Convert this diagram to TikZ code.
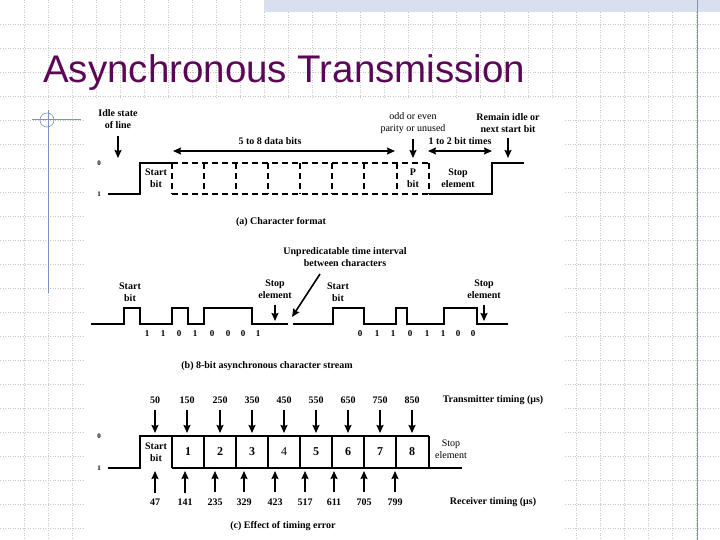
\documentclass[tikz,border=0pt]{standalone}
\usepackage{fontspec}
\setmainfont{Liberation Serif}
\newfontfamily\titlefont{Liberation Sans}
\usepackage{tikz}
\usetikzlibrary{arrows.meta, positioning}

\definecolor{titlepurple}{RGB}{92,6,88}
\definecolor{rulecol}{RGB}{128,144,196}
\definecolor{gridcol}{RGB}{200,200,200}
\definecolor{bandcol}{RGB}{216,224,240}

\begin{document}
\begin{tikzpicture}[
    x=1pt, y=-1pt,
    lbl/.style={font=\bfseries\fontsize{10}{12}\selectfont, align=center, inner sep=0pt},
    thin lbl/.style={font=\fontsize{10}{12}\selectfont, align=center, inner sep=0pt},
    bitlbl/.style={font=\bfseries\fontsize{9}{10}\selectfont, inner sep=0pt},
    level/.style={font=\bfseries\fontsize{7}{8}\selectfont, inner sep=0pt},
    cellnum/.style={font=\bfseries\fontsize{12}{13}\selectfont, inner sep=0pt},
    arrow/.style={-{Stealth[length=8pt, width=7pt, inset=1pt]}, line width=1.6pt},
    dblarrow/.style={{Stealth[length=8pt, width=7pt, inset=1pt]}-{Stealth[length=8pt, width=7pt, inset=1pt]}, line width=1.6pt},
    signal/.style={line width=1.8pt},
    frame/.style={line width=1.8pt, dash pattern=on 6pt off 4pt},
    cell/.style={line width=2.1pt},
    gridline/.style={gridcol, line width=0.6pt, dash pattern=on 1pt off 1.5pt},
]
% Slide background
\useasboundingbox (0,0) rectangle (720,540);
\fill[white] (0,0) rectangle (720,540);
\foreach \gx in {24,48,...,696} \draw[gridline] (\gx,0) -- (\gx,540);
\foreach \gy in {24,48,...,528} \draw[gridline] (0,\gy) -- (720,\gy);
\fill[bandcol] (264,0) rectangle (720,12);
\draw[rulecol, line width=1pt] (697,0) -- (697,540);
\draw[rulecol, line width=0.8pt] (32,119) -- (81,119);
\draw[rulecol, line width=0.8pt] (48,110) -- (48,293);
\draw[rulecol, line width=0.6pt] (47,120) circle (7);
\fill[white] (85,98) rectangle (565,540);

% Title
\node[font=\titlefont\fontsize{38.5}{40}\selectfont, text=titlepurple, anchor=base west, inner sep=0pt] (title) at (43,83) {Asynchronous Transmission};

% (a) Character format
\node[level] (a0) at (99,163) {0};
\node[level] (a1) at (99,194) {1};
\draw[signal] (108,194) -- (140,194) -- (140,163) -- (172,163);
\draw[frame] (172,163) -- (429,163);
\draw[frame] (172,194) -- (429,194);
\draw[frame] (172,163) -- (172,194);
\draw[frame] (204,163) -- (204,194);
\draw[frame] (236,163) -- (236,194);
\draw[frame] (268,163) -- (268,194);
\draw[frame] (300,163) -- (300,194);
\draw[frame] (332,163) -- (332,194);
\draw[frame] (364,163) -- (364,194);
\draw[frame] (397,163) -- (397,194);
\draw[frame] (429,163) -- (429,194);
\draw[signal] (429,194) -- (492,194) -- (492,163) -- (524,163);

\node[lbl] (startA) at (156,178) {Start\\bit};
\node[lbl] (parityA) at (413,178) {P\\bit};
\node[lbl] (stopA) at (458,178) {Stop\\element};

\node[lbl] (idle) at (118,119) {Idle state\\of line};
\coordinate (idleTip) at (118,158);
\draw[arrow, shorten <=7pt] (idle) -- (idleTip);

\node[lbl] (databits) at (270,141) {5 to 8 data bits};
\coordinate (dataL) at (173,151);
\coordinate (dataR) at (395,151);
\draw[dblarrow] (dataL) -- (dataR);

\node[thin lbl] (parity) at (413,123) {odd or even\\parity or unused};
\coordinate (parityTip) at (413,158);
\draw[arrow, shorten <=5pt] (parity) -- (parityTip);

\node[lbl] (bittimes) at (460,141) {1 to 2 bit times};
\coordinate (stopL) at (428,151);
\coordinate (stopR) at (492,151);
\draw[dblarrow] (stopL) -- (stopR);

\node[lbl] (remain) at (508,123) {Remain idle or\\next start bit};
\coordinate (remainTip) at (508,158);
\draw[arrow, shorten <=5pt] (remain) -- (remainTip);

\node[lbl] (capA) at (281,222) {(a) Character format};

% (b) 8-bit asynchronous character stream
\draw[signal] (91,324) -- (124,324) -- (124,308) -- (140,308) -- (140,324) -- (172,324)
    -- (172,308) -- (188,308) -- (188,324) -- (204,324) -- (204,308) -- (252,308)
    -- (252,324) -- (288,324);
\draw[signal] (293,324) -- (333,324) -- (333,308) -- (364,308) -- (364,324) -- (396,324)
    -- (396,308) -- (407,308) -- (407,324) -- (444,324) -- (444,308) -- (477,308)
    -- (477,324) -- (508,324);

\node[bitlbl] (b1) at (147,334) {1};
\node[bitlbl] (b2) at (163,334) {1};
\node[bitlbl] (b3) at (179,334) {0};
\node[bitlbl] (b4) at (195,334) {1};
\node[bitlbl] (b5) at (212,334) {0};
\node[bitlbl] (b6) at (228,334) {0};
\node[bitlbl] (b7) at (243,334) {0};
\node[bitlbl] (b8) at (258,334) {1};
\node[bitlbl] (c1) at (360,334) {0};
\node[bitlbl] (c2) at (377,334) {1};
\node[bitlbl] (c3) at (393,334) {1};
\node[bitlbl] (c4) at (410,334) {0};
\node[bitlbl] (c5) at (427,334) {1};
\node[bitlbl] (c6) at (443,334) {1};
\node[bitlbl] (c7) at (458,334) {0};
\node[bitlbl] (c8) at (473,334) {0};

\node[lbl] (startB1) at (130,292) {Start\\bit};
\node[lbl] (stopB1) at (275,289) {Stop\\element};
\coordinate (stopB1Tip) at (275,321);
\draw[arrow, shorten <=6pt] (stopB1) -- (stopB1Tip);

\node[lbl] (gap) at (345,257) {Unpredicatable time interval\\between characters};
\coordinate (gapFrom) at (320,274);
\coordinate (gapTo) at (292,317);
\draw[arrow] (gapFrom) -- (gapTo);

\node[lbl] (startB2) at (338,292) {Start\\bit};
\node[lbl] (stopB2) at (484,289) {Stop\\element};
\coordinate (stopB2Tip) at (484,321);
\draw[arrow, shorten <=6pt] (stopB2) -- (stopB2Tip);

\node[lbl] (capB) at (267,366) {(b) 8-bit asynchronous character stream};

% (c) Effect of timing error
\node[level] (c0) at (99,436) {0};
\node[level] (c1l) at (99,468) {1};
\draw[cell] (108,468) -- (140,468) -- (140,436) -- (429,436);
\draw[cell] (172,468) -- (462,468);
\draw[cell] (172,436) -- (172,468);
\draw[cell] (204,436) -- (204,468);
\draw[cell] (236,436) -- (236,468);
\draw[cell] (268,436) -- (268,468);
\draw[cell] (300,436) -- (300,468);
\draw[cell] (332,436) -- (332,468);
\draw[cell] (364,436) -- (364,468);
\draw[cell] (396,436) -- (396,468);
\draw[cell] (429,436) -- (429,468);

\node[lbl] (startC) at (156,452) {Start\\bit};
\node[cellnum] (d1) at (188,452) {1};
\node[cellnum] (d2) at (220,452) {2};
\node[cellnum] (d3) at (252,452) {3};
\node[cellnum, font=\fontsize{12}{13}\selectfont] (d4) at (284,452) {4};
\node[cellnum] (d5) at (316,452) {5};
\node[cellnum] (d6) at (348,452) {6};
\node[cellnum] (d7) at (380,452) {7};
\node[cellnum] (d8) at (412,452) {8};
\node[thin lbl] (stopC) at (451,449) {Stop\\element};

% Transmitter timing
\node[lbl] (tx) at (493,400) {Transmitter timing (μs)};
\node[lbl] (t50) at (155,400) {50};
\node[lbl] (t150) at (187,400) {150};
\node[lbl] (t250) at (220,400) {250};
\node[lbl] (t350) at (252,400) {350};
\node[lbl] (t450) at (284,400) {450};
\node[lbl] (t550) at (316,400) {550};
\node[lbl] (t650) at (348,400) {650};
\node[lbl] (t750) at (380,400) {750};
\node[lbl] (t850) at (412,400) {850};
\coordinate (t50Tip) at (155,433);
\coordinate (t150Tip) at (187,433);
\coordinate (t250Tip) at (220,433);
\coordinate (t350Tip) at (252,433);
\coordinate (t450Tip) at (284,433);
\coordinate (t550Tip) at (316,433);
\coordinate (t650Tip) at (348,433);
\coordinate (t750Tip) at (380,433);
\coordinate (t850Tip) at (412,433);
\draw[arrow, shorten <=6pt] (t50) -- (t50Tip);
\draw[arrow, shorten <=6pt] (t150) -- (t150Tip);
\draw[arrow, shorten <=6pt] (t250) -- (t250Tip);
\draw[arrow, shorten <=6pt] (t350) -- (t350Tip);
\draw[arrow, shorten <=6pt] (t450) -- (t450Tip);
\draw[arrow, shorten <=6pt] (t550) -- (t550Tip);
\draw[arrow, shorten <=6pt] (t650) -- (t650Tip);
\draw[arrow, shorten <=6pt] (t750) -- (t750Tip);
\draw[arrow, shorten <=6pt] (t850) -- (t850Tip);

% Receiver timing
\node[lbl] (rx) at (493,502) {Receiver timing (μs)};
\node[lbl] (r47) at (155,502) {47};
\node[lbl] (r141) at (185,502) {141};
\node[lbl] (r235) at (215,502) {235};
\node[lbl] (r329) at (244,502) {329};
\node[lbl] (r423) at (275,502) {423};
\node[lbl] (r517) at (305,502) {517};
\node[lbl] (r611) at (334,502) {611};
\node[lbl] (r705) at (364,502) {705};
\node[lbl] (r799) at (395,502) {799};
\coordinate (r47Tip) at (155,471);
\coordinate (r141Tip) at (185,471);
\coordinate (r235Tip) at (215,471);
\coordinate (r329Tip) at (244,471);
\coordinate (r423Tip) at (275,471);
\coordinate (r517Tip) at (305,471);
\coordinate (r611Tip) at (334,471);
\coordinate (r705Tip) at (364,471);
\coordinate (r799Tip) at (395,471);
\draw[arrow, shorten <=6pt] (r47) -- (r47Tip);
\draw[arrow, shorten <=6pt] (r141) -- (r141Tip);
\draw[arrow, shorten <=6pt] (r235) -- (r235Tip);
\draw[arrow, shorten <=6pt] (r329) -- (r329Tip);
\draw[arrow, shorten <=6pt] (r423) -- (r423Tip);
\draw[arrow, shorten <=6pt] (r517) -- (r517Tip);
\draw[arrow, shorten <=6pt] (r611) -- (r611Tip);
\draw[arrow, shorten <=6pt] (r705) -- (r705Tip);
\draw[arrow, shorten <=6pt] (r799) -- (r799Tip);

\node[lbl] (capC) at (283,526) {(c) Effect of timing error};

\end{tikzpicture}
\end{document}
